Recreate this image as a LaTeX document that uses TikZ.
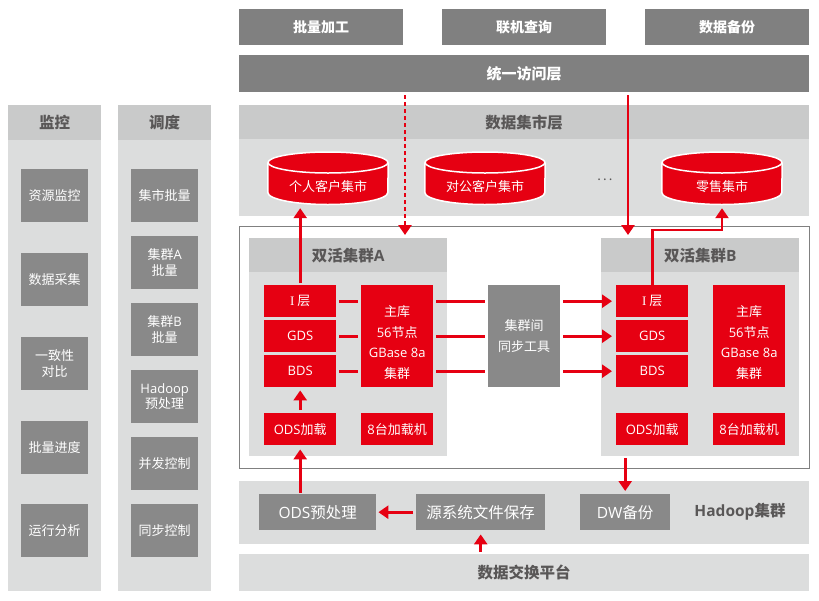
\documentclass[tikz,border=0pt]{standalone}
\usepackage{fontspec}
\usetikzlibrary{arrows.meta,positioning,calc}
\setmainfont{Noto Sans CJK SC}
\newfontfamily\latinfont{Open Sans}
\newfontfamily\serifont{Liberation Serif}
\newcommand{\lat}[1]{{\latinfont #1}}
\definecolor{red}{HTML}{E60012}
\definecolor{dark}{HTML}{898989}
\definecolor{bar}{HTML}{808080}
\definecolor{head}{HTML}{C9CACA}
\definecolor{pale}{HTML}{DCDDDD}
\definecolor{ink}{HTML}{595757}

\begin{document}
\begin{tikzpicture}[x=1pt, y=-1pt, every node/.style={font=\fontsize{13}{15.5}\selectfont, inner sep=0pt, align=center},
box/.style={fill=#1, anchor=north west, text=white}, box/.default=red,
tall/.style={font=\fontsize{13}{20.5}\selectfont},
wide/.style={font=\fontsize{15.5}{18}\selectfont},
band/.style={fill=pale, anchor=north west},
title/.style={fill=head, anchor=north west, text=ink, font=\fontsize{15.5}{18}\selectfont\bfseries},
top/.style={fill=bar, anchor=north west, text=white, font=\fontsize{14}{18}\selectfont\bfseries, minimum height=36pt},
mart/.style={minimum width=120pt, minimum height=53pt},
arr/.style={-{Triangle[length=10pt,width=13pt]}, red, line width=2.8pt},
lin/.style={red, line width=2.8pt}]
\useasboundingbox (0,0) rectangle (819,600);
% top row
\node[top, minimum width=164pt] (batch) at (239,9) {批量加工};
\node[top, minimum width=164pt] (query) at (442,9) {联机查询};
\node[top, minimum width=164pt] (backup) at (645,9) {数据备份};
\node[top, minimum width=570pt, minimum height=37pt, font=\fontsize{15}{18}\selectfont\bfseries] (access) at (239,55) {统一访问层};
% data mart layer
\node[band, minimum width=570pt, minimum height=77pt] (martband) at (239,139) {};
\node[title, minimum width=570pt, minimum height=34pt] (marthead) at (239,105) {数据集市层};
\foreach \m/\x/\t in {personal/328/个人客户集市, corporate/485/对公客户集市, retail/722/零售集市} {
  \node[mart] (\m) at (\x,178.5) {};
  \draw[white, fill=red, line width=1.5pt] ($(\m.west)+(0,-16)$) -- ($(\m.west)+(0,14)$) arc[start angle=180, end angle=360, x radius=60pt, y radius=12pt] -- ($(\m.east)+(0,-16)$);
  \draw[white, fill=red, line width=1.5pt] ($(\m)+(0,-16)$) ellipse[x radius=60pt, y radius=10.5pt];
  \node[text=white] (\m txt) at (\x,187) {\t};
}
\node[text=ink] (more) at (605,180) {.\,.\,.};
% frame and the two clusters
\node[draw=bar, line width=0.8pt, anchor=north west, minimum width=570pt, minimum height=242pt] (frame) at (239,226) {};
\node[band, minimum width=198pt, minimum height=184pt] (bodyA) at (249,272) {};
\node[title, minimum width=198pt, minimum height=34pt] (headA) at (249,238) {双活集群\lat{A}};
\node[band, minimum width=198pt, minimum height=184pt] (bodyB) at (601,272) {};
\node[title, minimum width=198pt, minimum height=34pt] (headB) at (601,238) {双活集群\lat{B}};
\node[box, minimum width=72pt, minimum height=32pt] (iA) at (264,285) {{\serifont I} 层};
\node[box, minimum width=72pt, minimum height=32pt] (gdsA) at (264,320) {\lat{GDS}};
\node[box, minimum width=72pt, minimum height=32pt] (bdsA) at (264,355) {\lat{BDS}};
\node[box, tall, minimum width=72pt, minimum height=102pt] (mainA) at (361,285) {\rule{0pt}{24pt}主库\\\lat{56}节点\\\lat{GBase 8a}\\集群};
\node[box, minimum width=72pt, minimum height=32pt] (odsA) at (264,413) {\lat{ODS}加载};
\node[box, minimum width=72pt, minimum height=32pt] (loadA) at (361,413) {\lat{8}台加载机};
\node[box, minimum width=72pt, minimum height=32pt] (iB) at (616,285) {{\serifont I} 层};
\node[box, minimum width=72pt, minimum height=32pt] (gdsB) at (616,320) {\lat{GDS}};
\node[box, minimum width=72pt, minimum height=32pt] (bdsB) at (616,355) {\lat{BDS}};
\node[box, tall, minimum width=72pt, minimum height=102pt] (mainB) at (713,285) {\rule{0pt}{24pt}主库\\\lat{56}节点\\\lat{GBase 8a}\\集群};
\node[box, minimum width=72pt, minimum height=32pt] (odsB) at (616,413) {\lat{ODS}加载};
\node[box, minimum width=72pt, minimum height=32pt] (loadB) at (713,413) {\lat{8}台加载机};
\node[box=dark, tall, minimum width=72pt, minimum height=102pt] (sync) at (488,285) {集群间\\同步工具};
% hadoop and exchange
\node[band, minimum width=570pt, minimum height=63pt] (hadoop) at (239,481) {};
\node[box=dark, wide, minimum width=117pt, minimum height=36pt] (prep) at (259,494) {\lat{ODS}预处理};
\node[box=dark, wide, minimum width=129pt, minimum height=36pt] (source) at (416,494) {源系统文件保存};
\node[box=dark, wide, minimum width=90pt, minimum height=36pt] (dw) at (580,494) {\lat{DW}备份};
\node[text=ink, font=\fontsize{15.5}{18}\selectfont\bfseries] (hadooptxt) at (740,512) {\lat{Hadoop}集群};
\node[band, text=ink, minimum width=570pt, minimum height=37pt, font=\fontsize{15.5}{18}\selectfont\bfseries] (exchange) at (239,554) {数据交换平台};
% side columns
\node[band, minimum width=93pt, minimum height=451pt] (monband) at (8,140) {};
\node[title, minimum width=93pt, minimum height=35pt] (monhead) at (8,105) {监控};
\node[band, minimum width=93pt, minimum height=451pt] (schband) at (118,140) {};
\node[title, minimum width=93pt, minimum height=35pt] (schhead) at (118,105) {调度};
\foreach \i/\y/\t in {1/169/资源监控, 2/253/数据采集, 3/337/一致性\\对比, 4/421/批量进度, 5/504/运行分析}
  \node[box=dark, minimum width=67pt, minimum height=53pt] (mon\i) at (21,\y) {\t};
\foreach \i/\y/\t in {1/169/集市批量, 2/236/集群\lat{A}\\批量, 3/303/集群\lat{B}\\批量, 4/370/\lat{Hadoop}\\预处理, 5/437/并发控制, 6/504/同步控制}
  \node[box=dark, minimum width=67pt, minimum height=53pt] (sch\i) at (131,\y) {\t};
% connectors
\coordinate (dotend) at (405,235);
\coordinate (solidend) at (628,235);
\coordinate (elbowB) at (722,230);
\draw[arr, shorten <=2pt, shorten >=3pt] (iA.north) -- (iA.north |- personal.south);
\draw[arr, dash pattern=on 4pt off 3pt, shorten <=3pt] (dotend |- access.south) -- (dotend);
\draw[arr, shorten <=3pt] (solidend |- access.south) -- (solidend);
\draw[arr, shorten >=3pt] (iB.north) |- (elbowB) -- (retail.south);
\foreach \n in {i,gds,bds} {
  \draw[lin, shorten <=3pt, shorten >=3pt] (\n A.east) -- (mainA.west |- \n A.east);
  \draw[lin, shorten <=3pt, shorten >=3pt] (mainA.east |- \n A.east) -- (sync.west |- \n A.east);
  \draw[arr, shorten <=3pt, shorten >=4pt] (sync.east |- \n B.west) -- (\n B.west);
}
\draw[arr, shorten <=3pt, shorten >=3pt] (odsA.north) -- (bdsA.south);
\draw[arr, shorten <=1pt, shorten >=4pt] (odsA.south |- prep.north) -- (odsA.south);
\draw[arr, shorten <=3pt, shorten >=2pt] (source.west) -- (prep.east);
\draw[arr, shorten <=2pt, shorten >=4pt] (exchange.north -| source.south) -- (source.south);
\draw[arr, shorten <=2pt, shorten >=3pt] (bodyB.south -| dw.north) -- (dw.north);
\end{tikzpicture}
\end{document}
